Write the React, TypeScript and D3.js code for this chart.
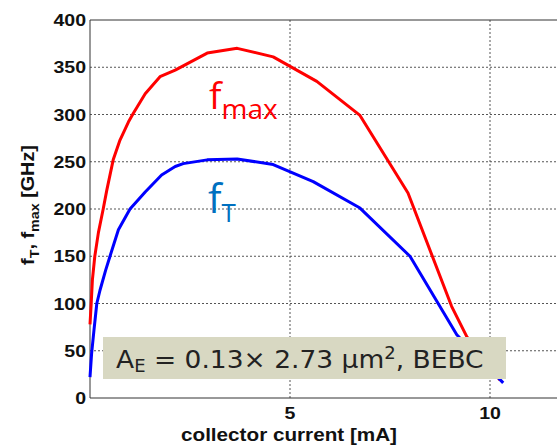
import React from 'react';
import * as d3 from 'd3';

// collector current [mA] and frequencies [GHz]
const icMax = [0.0, 0.03, 0.06, 0.12, 0.21, 0.33, 0.42, 0.58, 0.75, 0.96, 1.08, 1.38, 1.75, 2.13, 2.93, 3.68, 4.58, 5.67, 6.75, 7.95, 9.04, 9.42, 10.25];
const fmax = [78, 100, 125, 150, 175, 200, 220, 252, 273, 292, 301, 322, 340, 347, 365, 370, 361, 335, 299, 217, 97, 65, 19];

const icT = [0.0, 0.04, 0.1, 0.17, 0.25, 0.39, 0.5, 0.71, 1.0, 1.38, 1.79, 2.13, 2.33, 2.93, 3.68, 4.58, 5.58, 6.75, 8.0, 9.17, 10.33];
const fT = [22, 47, 72, 100, 114, 135, 150, 178, 200, 218, 236, 245, 248, 252, 253, 247, 229, 201, 150, 67, 16];

const xTicks = [5, 10];
const yTicks = [0, 50, 100, 150, 200, 250, 300, 350, 400];

const W = 557, H = 445;
const margin = { left: 90, top: 20, right: 0, bottom: 47 };
const SX = 1.15; // labels in the original are a bit wider than tall

const App = () => {
  const x = d3.scaleLinear().domain([0, 12]).range([margin.left, margin.left + 12 * 40]);
  const y = d3.scaleLinear().domain([0, 400]).range([H - margin.bottom, margin.top]);

  const line = d3.line<[number, number]>().x(d => x(d[0])).y(d => y(d[1]));
  const redPts = icMax.map((v, i) => [v, fmax[i]] as [number, number]);
  const bluePts = icT.map((v, i) => [v, fT[i]] as [number, number]);

  const x0 = x(0), x1 = x(12), y0 = y(0), y1 = y(400);
  const grid = '#555';
  const font = '"Liberation Sans", Arial, sans-serif';
  const sans = '"Open Sans", "DejaVu Sans", sans-serif';

  return (
    <svg width={W} height={H} style={{ position: 'absolute', left: 0, top: 0, background: '#fff' }}>
      {/* grid */}
      {yTicks.filter(t => t > 0 && t < 400).map(t => (
        <line key={'gy' + t} x1={x0} x2={x1} y1={y(t)} y2={y(t)} stroke={grid} strokeWidth={1} strokeDasharray="2,2" />
      ))}
      {xTicks.map(t => (
        <line key={'gx' + t} x1={x(t)} x2={x(t)} y1={y0} y2={y1} stroke={grid} strokeWidth={1} strokeDasharray="2,2" />
      ))}
      {/* axes box */}
      <line x1={x0} x2={x1} y1={y1} y2={y1} stroke="#333" strokeWidth={1} />
      <line x1={x0} x2={x1} y1={y0} y2={y0} stroke="#333" strokeWidth={1} />
      <line x1={x0} x2={x0} y1={y0} y2={y1} stroke="#333" strokeWidth={1} />

      {/* tick labels */}
      {yTicks.map(t => (
        <g key={'ty' + t} transform={`translate(${x0 - 4},${y(t)}) scale(${SX},1)`}>
          <text dy="0.36em" textAnchor="end" fontFamily={font} fontWeight="bold" fontSize={17} fill="#111">{t}</text>
        </g>
      ))}
      {xTicks.map(t => (
        <g key={'tx' + t} transform={`translate(${x(t)},${y0 + 21}) scale(${SX},1)`}>
          <text textAnchor="middle" fontFamily={font} fontWeight="bold" fontSize={17} fill="#111">{t}</text>
        </g>
      ))}

      {/* axis titles */}
      <g transform={`translate(289,441) scale(${SX},1)`}>
        <text textAnchor="middle" fontFamily={font} fontWeight="bold" fontSize={18} fill="#111">
          collector current [mA]
        </text>
      </g>
      <g transform={`translate(34,${(y0 + y1) / 2 - 4}) rotate(-90) scale(1.1,1)`}>
        <text textAnchor="middle" fontFamily={font} fontWeight="bold" fontSize={18} fill="#111">
          f<tspan fontSize={13} dy={5}>T</tspan><tspan dy={-5}>, f</tspan><tspan fontSize={13} dy={5}>max</tspan><tspan dy={-5}> [GHz]</tspan>
        </text>
      </g>

      {/* curves */}
      <path d={line(redPts) || ''} fill="none" stroke="#ff0000" strokeWidth={3} strokeLinejoin="round" />
      <path d={line(bluePts) || ''} fill="none" stroke="#0000ff" strokeWidth={3} strokeLinejoin="round" />

      {/* curve labels */}
      <text x={209} y={109} fontFamily={sans} fontSize={37} fill="#ff0000">
        f<tspan fontSize={28} dy={10}>max</tspan>
      </text>
      <text x={208} y={213} fontFamily={sans} fontSize={40} fill="#0070c0">
        f<tspan fontSize={26} dy={9}>T</tspan>
      </text>

      {/* annotation */}
      <rect x={103} y={337} width={403} height={42} fill="#d8d8c2" />
      <g transform={`translate(116,368) scale(1.06,1)`}>
        <text fontFamily='"DejaVu Sans", Verdana, sans-serif' fontSize={25} fill="#222">
          A<tspan fontSize={17} dy={4}>E</tspan><tspan dy={-4}> = 0.13× 2.73 µm</tspan><tspan fontSize={17} dy={-9}>2</tspan><tspan dy={9}>, BEBC</tspan>
        </text>
      </g>
    </svg>
  );
};

export default App;
